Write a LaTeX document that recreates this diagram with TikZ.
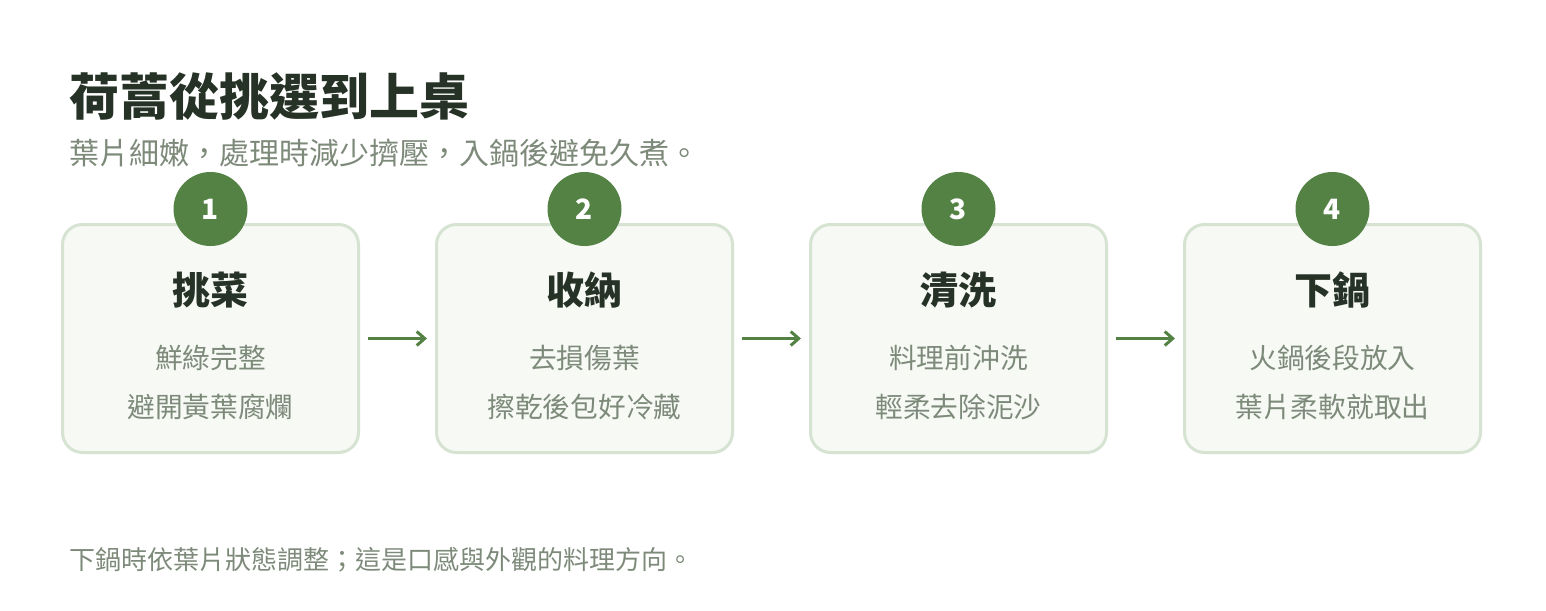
\documentclass[tikz,border=0pt]{standalone}
\usepackage{fontspec}
\setmainfont{Noto Sans CJK TC}
\usetikzlibrary{positioning, arrows.meta}

\definecolor{leafgreen}{HTML}{548245}
\definecolor{boxline}{HTML}{D7E3D2}
\definecolor{boxfill}{HTML}{F6F9F4}
\definecolor{inkdark}{HTML}{263226}
\definecolor{inkgray}{HTML}{7D8A7A}

\tikzset{
    stepbox/.style={draw=boxline, fill=boxfill, line width=3pt, rounded corners=20pt,
        minimum width=296pt, minimum height=228pt},
    badge/.style={circle, fill=leafgreen, minimum size=74pt, inner sep=0pt,
        text=white, font=\fontsize{28}{30}\selectfont\bfseries},
    steptitle/.style={text=inkdark, font=\fontsize{38}{42}\selectfont\bfseries},
    stepnote/.style={text=inkgray, font=\fontsize{27.7}{32}\selectfont},
    flow/.style={-{Straight Barb[length=8pt,width=14pt,line width=3pt]}, leafgreen, line width=3pt,
        shorten <=8pt, shorten >=8pt},
}

\begin{document}
\begin{tikzpicture}[x=1pt, y=-1pt]
        \useasboundingbox (0,0) rectangle (1546,610);
        \node[anchor=west, text=inkdark, font=\fontsize{50}{56}\selectfont\bfseries] (title) at (66,96) {荷蒿從挑選到上桌};
        \node[anchor=west, text=inkgray, font=\fontsize{30}{34}\selectfont] (subtitle) at (66,153) {葉片細嫩，處理時減少擠壓，入鍋後避免久煮。};
        \foreach \i/\name/\lineA/\lineB in {1/挑菜/鮮綠完整/避開黃葉腐爛, 2/收納/去損傷葉/擦乾後包好冷藏,
                3/清洗/料理前沖洗/輕柔去除泥沙, 4/下鍋/火鍋後段放入/葉片柔軟就取出} {
            \pgfmathsetmacro{\cx}{210.5+374*(\i-1)}
            \node[stepbox] (box\i) at (\cx,338.5) {};
            \node[badge] (num\i) at (\cx,209) {\i};
            \node[steptitle] (name\i) at (\cx,290) {\name};
            \node[stepnote] (noteA\i) at (\cx,358) {\lineA};
            \node[stepnote] (noteB\i) at (\cx,407) {\lineB};
        }
        \foreach \i [evaluate=\i as \j using {int(\i+1)}] in {1,2,3}
            \draw[flow] (box\i.east) -- (box\j.west);
        \node[anchor=west, text=inkgray, font=\fontsize{26}{30}\selectfont] (footer) at (66,560) {下鍋時依葉片狀態調整；這是口感與外觀的料理方向。};
    \end{tikzpicture}
\end{document}
